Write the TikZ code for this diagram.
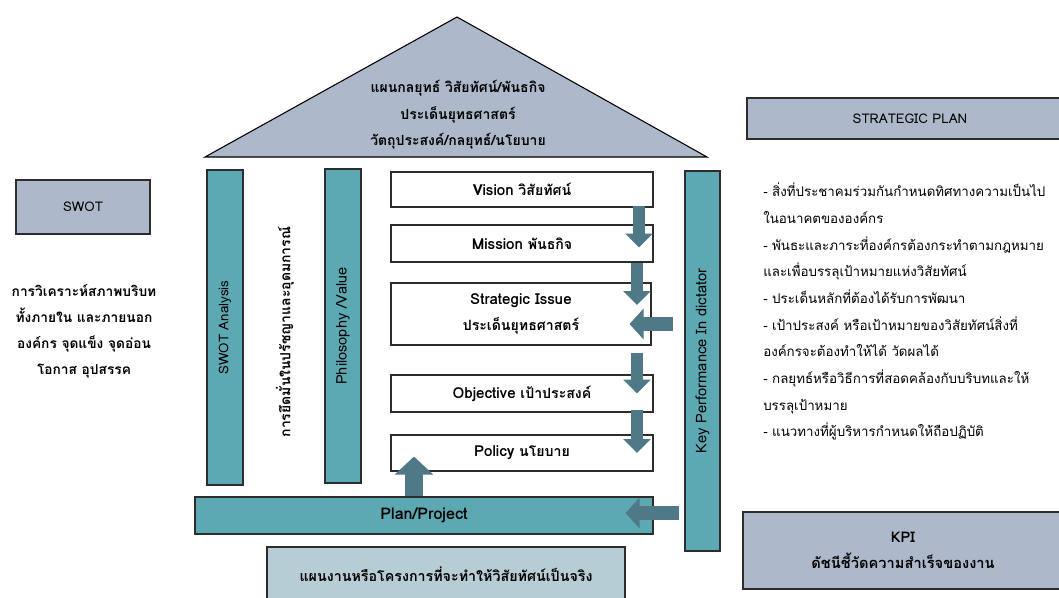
\documentclass[tikz,border=0pt]{standalone}
\usepackage{fontspec}
\setmainfont[Script=Thai]{Loma}
\newfontfamily\lat[Scale=1.07]{Loma}
\usetikzlibrary{arrows.meta,calc}

\definecolor{roofblue}{RGB}{173,185,202}
\definecolor{pillar}{RGB}{93,169,179}
\definecolor{paleblue}{RGB}{183,205,213}
\definecolor{arrowteal}{RGB}{79,121,134}
\definecolor{edgegray}{RGB}{45,45,45}

\tikzset{
  box/.style={draw=edgegray, line width=0.8pt, fill=white, inner sep=0pt,
    align=center, font=\fontsize{10.6}{20}\selectfont\bfseries},
  sz/.style 2 args={minimum width=#1*0.75pt, minimum height=#2*0.75pt},
  pillarbox/.style={box, fill=pillar, font=\fontsize{10}{20}\selectfont},
  greybox/.style={box, fill=roofblue, font=\fontsize{10}{20}\selectfont},
  plain/.style={inner sep=0pt, align=center, font=\fontsize{10}{20}\selectfont},
  downarrow/.style={draw=arrowteal, line width=9pt,
    -{Triangle[width=20pt,length=10.5pt]}},
  leftarrow/.style={draw=arrowteal, line width=11pt,
    -{Triangle[width=22.5pt,length=10.5pt]}},
  uparrow/.style={draw=arrowteal, line width=13.5pt,
    -{Triangle[width=28pt,length=13.5pt]}},
}

\begin{document}
\begin{tikzpicture}[x=0.75pt,y=-0.75pt]
\useasboundingbox (0,0) rectangle (1059,597);
\clip (0,0) rectangle (1059,597);

% roof
\draw[draw=black, line width=0.8pt, fill=roofblue]
  (457,17) -- (707,157) -- (205,157) -- cycle;
\node[plain, font=\fontsize{10.5}{20}\selectfont\bfseries] (roof) at (458,115)
  {แผนกลยุทธ์ วิสัยทัศน์/พันธกิจ\\ประเด็นยุทธศาสตร์\\วัตถุประสงค์/กลยุทธ์/นโยบาย};

% SWOT side
\node[greybox, sz={134}{54}] (swot) at (83,207) {SWOT};
\node[plain, font=\fontsize{10.3}{19.5}\selectfont\bfseries] (swotdesc) at (84,331)
  {การวิเคราะห์สภาพบริบท\\ทั้งภายใน และภายนอก\\องค์กร จุดแข็ง จุดอ่อน\\โอกาส อุปสรรค};

% pillars
\node[pillarbox, sz={315}{36}, rotate=90] (swotbar) at (225,327.5) {SWOT Analysis};
\node[plain, rotate=90, font=\fontsize{10.5}{20}\selectfont\bfseries] (ideology) at (285,332)
  {การยึดมั่นในปรัชญาและอุดมการณ์};
\node[pillarbox, sz={314}{36}, rotate=90, font=\fontsize{10.9}{20}\selectfont] (philbar) at (343,326)
  {Philosophy /Value};
\node[pillarbox, sz={380}{35}, rotate=90, font=\fontsize{11}{20}\selectfont] (kpibar) at (702.5,361)
  {Key Performance In dictator};

% planning steps
\node[box, sz={262}{35}] (vision) at (522,189.5) {{\lat Vision} วิสัยทัศน์};
\node[box, sz={262}{37}] (mission) at (522,243.5) {{\lat Mission} พันธกิจ};
\node[box, sz={260}{62}] (strategic) at (521,314) {{\lat Strategic Issue}\\ประเด็นยุทธศาสตร์};
\node[box, sz={262}{37}] (objective) at (522,393.5) {{\lat Objective} เป้าประสงค์};
\node[box, sz={262}{36}] (policy) at (522,453) {{\lat Policy} นโยบาย};

% foundation
\node[box, fill=pillar, sz={458}{37}, font=\fontsize{11.3}{20}\selectfont\bfseries] (plan) at (424,515.5)
  {{\lat Plan/Project}};
\node[box, fill=paleblue, sz={358}{54}, font=\fontsize{10.7}{20}\selectfont\bfseries] (realize) at (446,574)
  {แผนงานหรือโครงการที่จะทำให้วิสัยทัศน์เป็นจริง};

% right side
\node[greybox, sz={326}{41}] (stratplan) at (910,118.5) {STRATEGIC PLAN};
\node[plain, anchor=north west, align=left, font=\fontsize{10}{20}\selectfont] (notes) at (763,183)
  {- สิ่งที่ประชาคมร่วมกันกำหนดทิศทางความเป็นไป\\
   ในอนาคตขององค์กร\\
   - พันธะและภาระที่องค์กรต้องกระทำตามกฎหมาย\\
   และเพื่อบรรลุเป้าหมายแห่งวิสัยทัศน์\\
   - ประเด็นหลักที่ต้องได้รับการพัฒนา\\
   - เป้าประสงค์ หรือเป้าหมายของวิสัยทัศน์สิ่งที่\\
   องค์กรจะต้องทำให้ได้ วัดผลได้\\
   - กลยุทธ์หรือวิธีการที่สอดคล้องกับบริบทและให้\\
   บรรลุเป้าหมาย\\
   - แนวทางที่ผู้บริหารกำหนดให้ถือปฏิบัติ};
\node[box, fill=roofblue, sz={320}{77}, font=\fontsize{11}{20}\selectfont\bfseries] (kpibox) at (903,550.5)
  {KPI\\ดัชนีชี้วัดความสำเร็จของงาน};

% flow arrows
\draw[downarrow] ($(vision.south -| 639,0)+(0,-2)$) -- ($(mission.center -| 639,0)+(0,4)$);
\draw[downarrow] (mission.south -| 637,0) -- ($(strategic.center -| 637,0)+(0,-9)$);
\draw[downarrow] ($(strategic.south -| 637,0)+(0,7)$) -- (objective.center -| 637,0);
\draw[downarrow] ($(objective.south -| 637,0)+(0,-3)$) -- (policy.center -| 637,0);
\draw[leftarrow] ($(strategic.east |- 0,324)+(21,0)$) -- ($(strategic.east |- 0,324)+(-22,0)$);
\draw[leftarrow] ($(plan.east)+(25,-2.5)$) -- ($(plan.east)+(-28,-2.5)$);
\draw[uparrow] (plan.north -| 414,0) -- ($(policy.south -| 414,0)+(0,-15)$);
\end{tikzpicture}
\end{document}
